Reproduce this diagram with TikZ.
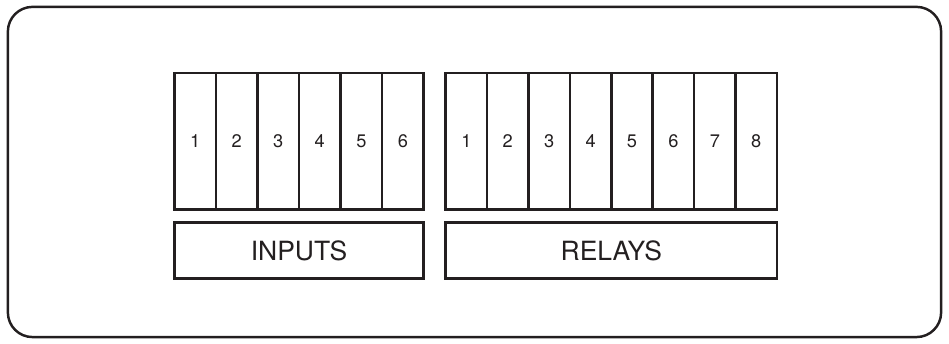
\documentclass[tikz,border=0pt]{standalone}
\usepackage{fontspec}
\setmainfont{TeX Gyre Heros}
\definecolor{ink}{HTML}{231F20}
\begin{document}
\begin{tikzpicture}[x=1pt,y=-1pt,
  frame/.style={draw=ink,line width=2.5pt,rounded corners=25pt},
  cell/.style={draw=ink,line width=2.7pt,minimum width=42.1pt,minimum height=138.5pt,inner sep=0pt,outer sep=0pt,anchor=north west,font=\fontsize{18.5}{20}\selectfont,text=ink},
  labelbox/.style={draw=ink,line width=2.7pt,minimum height=57.3pt,inner sep=0pt,outer sep=0pt,anchor=north west,font=\fontsize{26.9}{30}\selectfont,text=ink}]
\useasboundingbox (0,0) rectangle (964,349.4);
\draw[frame] (8,7) rectangle (956,342.4);
\foreach \i in {1,...,6}{
  \node[cell] (in\i) at ({177.3+(\i-1)*42.17},74) {\i};
}
\foreach \i in {1,...,8}{
  \node[cell] (re\i) at ({452.7+(\i-1)*42.06},74) {\i};
}
\node[labelbox,minimum width=253pt] (inputs) at (177.3,225.7) {INPUTS};
\node[labelbox,minimum width=336.5pt] (relays) at (452.7,225.7) {RELAYS};
\end{tikzpicture}
\end{document}
